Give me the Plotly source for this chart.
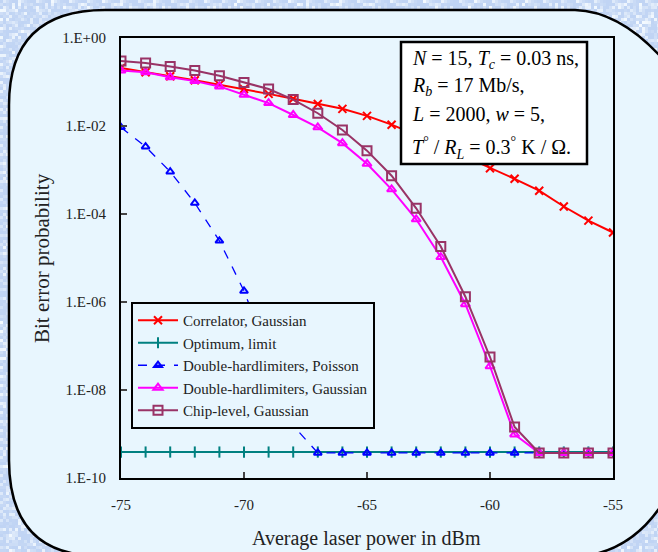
import base64, struct, zlib
import plotly.graph_objects as go

# ---------------- data ----------------
x_power = [-75, -74, -73, -72, -71, -70, -69, -68, -67, -66, -65,
           -64, -63, -62, -61, -60, -59, -58, -57, -56, -55]

log_correlator = [-0.68, -0.78, -0.87, -0.96, -1.06, -1.16, -1.27, -1.38, -1.50, -1.61, -1.77,
                  -1.97, -2.20, -2.45, -2.70, -2.96, -3.20, -3.47, -3.83, -4.15, -4.42]
log_optimum = [-9.41] * 21
log_dhl_poisson = [-2.03, -2.47, -3.04, -3.75, -4.61, -5.75, -7.20, -8.81, -9.43, -9.43, -9.43,
                   -9.43, -9.43, -9.43, -9.43, -9.43, -9.43, -9.43, -9.43, -9.43, -9.43]
log_dhl_gauss = [-0.74, -0.78, -0.89, -0.98, -1.10, -1.29, -1.48, -1.75, -2.03, -2.39, -2.86,
                 -3.44, -4.12, -4.98, -6.05, -7.46, -9.01, -9.43, -9.43, -9.43, -9.43]
log_chip = [-0.52, -0.57, -0.65, -0.74, -0.86, -1.01, -1.16, -1.40, -1.71, -2.09, -2.56,
            -3.13, -3.87, -4.74, -5.88, -7.25, -8.84, -9.43, -9.43, -9.43, -9.43]

y_tickvals = [1e0, 1e-2, 1e-4, 1e-6, 1e-8, 1e-10]
y_ticktext = ["1.E+00", "1.E-02", "1.E-04", "1.E-06", "1.E-08", "1.E-10"]
x_tickvals = [-75, -70, -65, -60, -55]
x_ticktext = ["-75", "-70", "-65", "-60", "-55"]

series_names = ["Correlator, Gaussian", "Optimum, limit", "Double-hardlimiters, Poisson",
                "Double-hardlimiters, Gaussian", "Chip-level, Gaussian"]

param_lines = [
    "<i>N</i> = 15, <i>T</i><sub><i>c</i></sub> = 0.03 ns,",
    "<i>R</i><sub><i>b</i></sub> = 17 Mb/s,",
    "<i>L</i> = 2000, <i>w</i> = 5,",
    "<i>T</i><sup>°</sup> / <i>R</i><sub><i>L</i></sub> = 0.3<sup>°</sup> K / Ω.",
]

# ---------------- helpers ----------------
W, H = 658, 552
L_, R_, T_, B_ = 121, 613, 38, 478


def px(x):
    return (x - L_) / (R_ - L_)


def py(y):
    return (B_ - y) / (B_ - T_)


def texture_png(w, h, cell=3):
    rows = []
    for j in range(h):
        row = bytearray([0])
        cj = j // cell
        for i in range(w):
            ci = i // cell
            v = ((ci * 73856093) ^ (cj * 19349663)) & 0xFFFF
            v = ((v * 2654435761) >> 7) & 0xFF
            t = v / 255.0
            t = t * t * t
            r = int(192 + 52 * t)
            g = int(212 + 38 * t)
            b = int(244 + 11 * t)
            row += bytes([r, g, min(b, 255)])
        rows.append(bytes(row))
    raw = b"".join(rows)

    def chunk(tag, data):
        c = struct.pack(">I", len(data)) + tag + data
        return c + struct.pack(">I", zlib.crc32(tag + data) & 0xFFFFFFFF)

    png = b"\x89PNG\r\n\x1a\n" + chunk(b"IHDR", struct.pack(">IIBBBBB", w, h, 8, 2, 0, 0, 0))
    png += chunk(b"IDAT", zlib.compress(raw, 9)) + chunk(b"IEND", b"")
    return "data:image/png;base64," + base64.b64encode(png).decode()


def pw(v):
    return [10 ** a for a in v]


FONT = "Liberation Serif, Times New Roman, serif"

fig = go.Figure()

fig.add_trace(go.Scatter(x=x_power, y=pw(log_correlator), name=series_names[0], mode="lines+markers",
                         line=dict(color="#FF0000", width=2),
                         marker=dict(symbol="x-thin-open", size=8, line=dict(color="#FF0000", width=2)),
                         legendgroup="a"))
fig.add_trace(go.Scatter(x=x_power, y=pw(log_optimum), name=series_names[1], mode="lines+markers",
                         line=dict(color="#008080", width=2),
                         marker=dict(symbol="line-ns-open", size=8, line=dict(color="#008080", width=2)),
                         legendgroup="b"))
fig.add_trace(go.Scatter(x=x_power, y=pw(log_dhl_poisson), name=series_names[2], mode="lines+markers",
                         line=dict(color="#0000FF", width=1.3, dash="dash"),
                         marker=dict(symbol="triangle-up-open", size=7, line=dict(color="#0000FF", width=2)),
                         legendgroup="c"))
fig.add_trace(go.Scatter(x=x_power, y=pw(log_dhl_gauss), name=series_names[3], mode="lines+markers",
                         line=dict(color="#FF00FF", width=2),
                         marker=dict(symbol="triangle-up-open", size=8, line=dict(color="#FF00FF", width=2)),
                         legendgroup="d"))
fig.add_trace(go.Scatter(x=x_power, y=pw(log_chip), name=series_names[4], mode="lines+markers",
                         line=dict(color="#993366", width=2),
                         marker=dict(symbol="square-open", size=9, line=dict(color="#993366", width=2)),
                         legendgroup="e"))


def P(x, y):
    return f"{px(x):.5f},{py(y):.5f}"


panel = (f"M {P(105,10)} L {P(575,10)} Q {P(640,12)} {P(700,110)} L {P(690,440)} "
         f"Q {P(660,545)} {P(585,556)} L {P(100,556)} Q {P(9,556)} {P(9,460)} "
         f"L {P(9,105)} Q {P(9,10)} {P(105,10)} Z")

shapes = [
    dict(type="path", path=panel, xref="paper", yref="paper", layer="below",
         fillcolor="#E8F6FE", line=dict(color="black", width=2.5)),
    dict(type="rect", xref="paper", yref="paper", x0=px(401), x1=px(587), y0=py(164), y1=py(42),
         fillcolor="white", line=dict(color="black", width=2.5), layer="above"),
]

annotations = []
line_y = [59, 86, 114, 148]
for t, yy in zip(param_lines, line_y):
    annotations.append(dict(text=t, x=px(410), y=py(yy), xref="paper", yref="paper",
                            xanchor="left", yanchor="middle", showarrow=False,
                            font=dict(family=FONT, size=20, color="black")))

annotations.append(dict(text="Average laser power in dBm", x=px(366), y=py(538), xref="paper", yref="paper",
                        xanchor="center", yanchor="middle", showarrow=False,
                        font=dict(family=FONT, size=20, color="#222")))
annotations.append(dict(text="Bit error probability", x=px(42), y=py(258), xref="paper", yref="paper",
                        xanchor="center", yanchor="middle", showarrow=False, textangle=-90,
                        font=dict(family=FONT, size=21, color="#222")))

fig.update_layout(
    width=W, height=H,
    margin=dict(l=L_, r=W - R_, t=T_, b=H - B_),
    paper_bgcolor="#D2E3F8",
    plot_bgcolor="rgba(0,0,0,0)",
    images=[dict(source=texture_png(W, H), xref="paper", yref="paper",
                 x=px(0), y=py(0), sizex=px(W) - px(0), sizey=py(0) - py(H),
                 xanchor="left", yanchor="top", sizing="stretch", layer="below")],
    shapes=shapes,
    annotations=annotations,
    showlegend=True,
    legend=dict(x=px(131), y=py(302), xanchor="left", yanchor="top",
                bgcolor="#E8F6FE", bordercolor="black", borderwidth=2,
                font=dict(family=FONT, size=15, color="#222"),
                tracegroupgap=5, itemwidth=40, traceorder="normal"),
    font=dict(family=FONT),
)

fig.update_xaxes(range=[-75, -55], tickvals=x_tickvals, ticktext=x_ticktext, ticks="inside", ticklen=6,
                 tickwidth=2, showline=True, linecolor="black", linewidth=2, mirror=True, showgrid=False,
                 zeroline=False, tickfont=dict(family=FONT, size=15, color="#222"), ticklabelstandoff=12)
fig.update_yaxes(type="log", range=[-10, 0], tickvals=y_tickvals, ticktext=y_ticktext,
                 ticks="inside", ticklen=6, tickwidth=2,
                 showline=True, linecolor="black", linewidth=2, mirror=True, showgrid=False,
                 zeroline=False, tickfont=dict(family=FONT, size=15, color="#222"), ticklabelstandoff=10)

fig.write_html("out.html", config={"displayModeBar": False},
               post_script="document.body.style.margin='0';document.body.style.overflow='hidden';")
